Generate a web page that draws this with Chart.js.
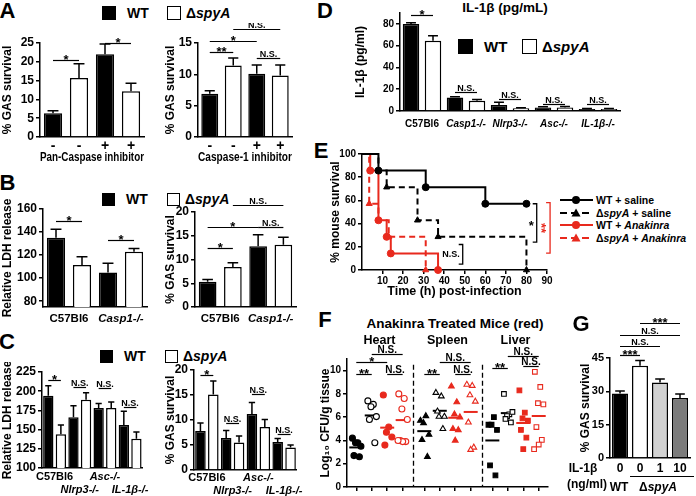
<!DOCTYPE html>
<html>
<head>
<meta charset="utf-8">
<script src="https://cdn.jsdelivr.net/npm/chart.js@4.4.1/dist/chart.umd.min.js"></script>
<style>
  body { margin:0; width:696px; height:496px; position:relative; overflow:hidden; background:#fff;
         font-family:"Liberation Sans", Arial, sans-serif; font-weight:bold; color:#000; }
  .abs { position:absolute; white-space:nowrap; line-height:1; }
  .sq { position:absolute; border:1.5px solid #000; box-sizing:border-box; }
  canvas { position:absolute; }
</style>
</head>
<body>
<script>
/* ── Data ─────────────────────────────────────────── */
const RED = '#e8291d';

// A
const aTicks   = ['-', '-', '+', '+'];
const aFill    = ['#000', '#fff', '#000', '#fff'];
const aPanMean = [6.3, 15.7, 22.0, 12.2];
const aPanErr  = [0.65, 3.8, 2.75, 2.1];
const aC1Mean  = [6.9, 11.4, 10.1, 9.8];
const aC1Err   = [0.5, 1.2, 1.4, 1.7];
const aPanSig  = [[[0,0],[0,1],20.5,'*'], [[0,2],[0,3],25,'*']];
const aC1Sig   = [[[0,0],[0,1],13.6,'**'], [[0,0],[0,2],15.3,'*'], [[0,1],[0,3],17.2,'N.S.'], [[0,2],[0,3],12.6,'N.S.']];

// B
const bGroups  = ['C57Bl6', 'Casp1-/-'];
const bLdhWT   = [135, 105],  bLdhWTErr = [7.5, 8];
const bLdhKO   = [111.5, 123], bLdhKOErr = [7, 2.7];
const bGasWT   = [5.3, 12.8], bGasWTErr = [0.5, 2.4];
const bGasKO   = [8.4, 13.1], bGasKOErr = [0.9, 1.6];
const bLdhSig  = [[[0,0],[1,0],149.5,'*'], [[0,1],[1,1],133.5,'*']];
const bGasSig  = [[[0,0],[1,0],12.5,'*'], [[0,0],[0,1],16.8,'*'], [[1,0],[1,1],21.5,'N.S.'], [[0,1],[1,1],16.8,'N.S.']];

// C
const cGroups  = [['C57Bl6', ''], ['', 'Nlrp3-/-'], ['Asc-/-', ''], ['', 'IL-1β-/-']];
const cLdhWT   = [194, 166, 178, 156], cLdhWTErr = [13, 15, 6, 18];
const cLdhKO   = [144, 189, 178, 138], cLdhKOErr = [12, 9, 8, 9];
const cGasWT   = [7.8, 6.4, 11.2, 5.6], cGasWTErr = [1.6, 1.5, 2.3, 0.7];
const cGasKO   = [15.1, 5.5, 8.6, 4.5], cGasKOErr = [2.7, 1.3, 1.5, 0.5];
const cLdhSig  = [[[0,0],[1,0],214.5,'*'], [[0,1],[1,1],205,'N.S.'], [[0,2],[1,2],204,'N.S.'], [[0,3],[1,3],179,'N.S.']];
const cGasSig  = [[[0,0],[1,0],19,'*'], [[0,1],[1,1],9.4,'N.S.'], [[0,2],[1,2],15.2,'N.S.'], [[0,3],[1,3],7.2,'N.S.']];

// D
const dGroups  = ['C57Bl6', 'Casp1-/-', 'Nlrp3-/-', 'Asc-/-', 'IL-1β-/-'];
const dWT      = [80, 12.5, 5.5, 3.3, 1.8], dWTErr = [1, 0.5, 2.5, 0.5, 0.4];
const dKO      = [64.5, 9.5, 2.5, 3.3, 1.8], dKOErr = [4.5, 1, 0.4, 0.8, 0.4];
const dSig     = [[[0,0],[1,0],88,'*'], [[0,1],[1,1],17.5,'N.S.'], [[0,2],[1,2],11,'N.S.'], [[0,3],[1,3],6.4,'N.S.'], [[0,4],[1,4],6.4,'N.S.']];

// E  (time in h, % survival)
const eWTsalT = [0, 8, 31, 60, 80],         eWTsalS = [100, 85.7, 71.4, 57.1, 57.1];
const eKOsalT = [0, 8, 12, 27, 37, 80],     eKOsalS = [100, 85.7, 71.4, 42.9, 28.6, 0];
const eWTanaT = [0, 4, 8, 12, 14, 37],      eWTanaS = [100, 85.7, 42.9, 28.6, 14.3, 0];
const eKOanaT = [0, 3.5, 8, 13, 31],        eKOanaS = [100, 57.1, 42.9, 28.6, 0];
const eXTicks = [10, 20, 30, 40, 50, 60, 70, 80, 90];
const eYTicks = [0, 20, 40, 60, 80, 100];

// F  (log10 CFU/g; columns: WT, ΔspyA, WT+Anakinra, ΔspyA+Anakinra per organ)
const fOrgans = ['Heart', 'Spleen', 'Liver'];
const fHeart  = [[4.2, 3.8, 3.8, 3.5, 2.7, 2.6], [7.4, 7.1, 6.9, 6.05, 5.8, 3.8], [7.9, 5.15, 4.7, 4.3, 3.6], [8.0, 7.6, 6.7, 5.8, 4.0, 3.9, 3.9, 4.0]];
const fSpleen = [[5.7, 6.1, 5.5, 4.5, 4.05, 2.6], [8.1, 7.8, 6.05, 6.05, 6.5, 5.0], [8.65, 7.3, 6.25, 6.0, 5.0, 4.9, 4.0], [8.8, 8.7, 7.9, 7.35, 5.55, 3.4, 3.2]];
const fLiver  = [[5.35, 6.0, 5.35, 4.9, 1.85, 1.0], [8.0, 6.25, 6.1, 6.45, 5.85, 5.55], [8.3, 6.4, 5.9, 5.7, 4.9, 4.25, 3.25], [9.9, 8.6, 7.2, 7.1, 5.15, 4.05, 3.65, 3.25]];
const fMedian = [3.4, 6.15, 5.1, 5.75, 4.8, 6.55, 5.95, 6.45, 4.0, 6.35, 5.5, 6.1];
const fYTicks = [0, 1, 2, 3, 4, 5, 6, 7, 8, 9, 10, 11];

// G
const gTicks  = ['0', '0', '1', '10'];
const gFill   = ['#000', '#fff', '#d2d2d2', '#7c7c7c'];
const gMean   = [29, 41.5, 34, 27];
const gErr    = [1.2, 2.4, 1.5, 1.8];
const gSig    = [[[0,0],[0,1],46.2,'***'], [[0,0],[0,2],50.2,'N.S.'], [[0,0],[0,3],55.2,'N.S.'], [[0,1],[0,3],60.7,'***']];

/* ── Defaults ─────────────────────────────────────── */
Chart.defaults.font.family = '"Liberation Sans", Arial, sans-serif';
Chart.defaults.font.weight = 'bold';
Chart.defaults.font.size = 12;
Chart.defaults.color = '#000';
Chart.defaults.animation = false;
Chart.defaults.plugins.legend.display = false;
Chart.defaults.plugins.tooltip.enabled = false;

/* ── Helpers ──────────────────────────────────────── */
function text(html, x, y, size, anchor) {
  const d = document.createElement('div');
  d.className = 'abs';
  d.innerHTML = html;
  d.style.left = x + 'px'; d.style.top = y + 'px'; d.style.fontSize = size + 'px';
  const tx = anchor === 'l' ? '0' : anchor === 'r' ? '-100%' : '-50%';
  d.style.transform = 'translate(' + tx + ',-50%)';
  document.body.appendChild(d);
  return d;
}
function sq(x, y, s, fill) {
  const d = document.createElement('div');
  d.className = 'sq';
  Object.assign(d.style, { left: x + 'px', top: y + 'px', width: s + 'px', height: s + 'px', background: fill });
  document.body.appendChild(d);
}
function legendWT(x, y, s, fs, gap) {
  sq(x, y - s / 2, s, '#000');
  text('WT', x + s + 11, y, fs, 'l');
  sq(x + gap, y - s / 2, s, '#fff');
  text('Δ<i>spyA</i>', x + gap + s + 5, y, fs, 'l');
}

// chart whose plot area is exactly [x0,y0,x1,y1]
function panel(area, yW, xH, padT, padR, cfg) {
  const [x0, y0, x1, y1] = area;
  const c = document.createElement('canvas');
  const w = x1 - x0 + yW + padR, h = y1 - y0 + padT + xH;
  c.width = w; c.height = h;
  Object.assign(c.style, { left: (x0 - yW) + 'px', top: (y0 - padT) + 'px', width: w + 'px', height: h + 'px' });
  document.body.appendChild(c);
  cfg.options.responsive = false;
  cfg.options.layout = { padding: { top: padT, right: padR, left: 0, bottom: 0 } };
  cfg.options.scales.x.afterFit = s => { s.height = xH; };
  cfg.options.scales.y.afterFit = s => { s.width = yW; };
  return new Chart(c, cfg);
}

function yAxis(min, max, ticks, title, fs) {
  return {
    type: 'linear', min, max,
    afterBuildTicks: s => { s.ticks = ticks.map(v => ({ value: v })); },
    ticks: { padding: 2, font: { size: fs } },
    grid: { drawOnChartArea: false, tickLength: 4, color: '#000', lineWidth: 1.5 },
    border: { color: '#000', width: 1.5 },
    title: { display: !!title, text: title, padding: 0, font: { size: 12 } }
  };
}
function xCat(fs, italic, title, pad) {
  return {
    type: 'category', offset: true,
    grid: { display: false, drawTicks: false },
    border: { color: '#000', width: 1.5 },
    ticks: { padding: pad || 3, maxRotation: 0, autoSkip: false,
             font: c => ({ size: fs, weight: 'bold', style: italic(c.index) ? 'italic' : 'normal' }) },
    title: { display: !!title, text: title || '', padding: 0, font: { size: 12 } }
  };
}
function barDs(data, err, fill, bp) {
  return { data, err, backgroundColor: fill, borderColor: '#000', borderWidth: 1.5,
           barPercentage: bp, categoryPercentage: 1 };
}

// upper error bars from ds.err
const errPlugin = {
  id: 'errbars',
  afterDatasetsDraw(chart) {
    const ctx = chart.ctx, ys = chart.scales.y;
    ctx.save();
    ctx.strokeStyle = '#000'; ctx.lineWidth = 1.5;
    chart.data.datasets.forEach((ds, di) => {
      if (!ds.err) return;
      chart.getDatasetMeta(di).data.forEach((bar, i) => {
        const top = ys.getPixelForValue(ds.data[i] + ds.err[i]);
        const hw = bar.width * 0.3;
        ctx.beginPath();
        ctx.moveTo(bar.x, bar.y); ctx.lineTo(bar.x, top);
        ctx.moveTo(bar.x - hw, top); ctx.lineTo(bar.x + hw, top);
        ctx.stroke();
      });
    });
    ctx.restore();
  }
};

function xOf(chart, ref) {
  if (Array.isArray(ref)) return chart.getDatasetMeta(ref[0]).data[ref[1]].x;
  return chart.scales.x.getPixelForValue(ref);
}
// significance bars: [from, to, yValue, label]
function sigPlugin(items, nsSize) {
  return {
    id: 'sig',
    afterDraw(chart) {
      const ctx = chart.ctx, ys = chart.scales.y;
      ctx.save();
      ctx.strokeStyle = '#000'; ctx.fillStyle = '#000'; ctx.lineWidth = 1.2;
      ctx.textAlign = 'center'; ctx.textBaseline = 'alphabetic';
      items.forEach(([a, b, v, t]) => {
        const xa = xOf(chart, a), xb = xOf(chart, b), y = Math.round(ys.getPixelForValue(v)) + 0.5;
        ctx.beginPath(); ctx.moveTo(xa, y); ctx.lineTo(xb, y); ctx.stroke();
        const star = t[0] === '*';
        ctx.font = 'bold ' + (star ? 13 : (nsSize || 9)) + 'px "Liberation Sans", Arial, sans-serif';
        ctx.fillText(t, (xa + xb) / 2, star ? y + 3 : y - 2);
      });
      ctx.restore();
    }
  };
}

/* ── A ────────────────────────────────────────────── */
text('A', 7.5, 10.5, 22);
legendWT(102, 12.5, 14, 14, 65);

panel([40, 43, 144, 137], 40, 28, 10, 4, {
  type: 'bar',
  data: { labels: aTicks, datasets: [barDs(aPanMean, aPanErr, aFill, 0.7)] },
  options: { scales: { x: xCat(14, () => false, 'Pan-Caspase inhibitor', 1),
                       y: yAxis(0, 25, [0, 5, 10, 15, 20, 25], '% GAS survival', 12) } },
  plugins: [errPlugin, sigPlugin(aPanSig)]
});
panel([198, 43, 292, 137], 35, 28, 20, 4, {
  type: 'bar',
  data: { labels: aTicks, datasets: [barDs(aC1Mean, aC1Err, aFill, 0.72)] },
  options: { scales: { x: xCat(14, () => false, 'Caspase-1 inhibitor', 1),
                       y: yAxis(0, 15, [0, 5, 10, 15], '% GAS survival', 12) } },
  plugins: [errPlugin, sigPlugin(aC1Sig)]
});

/* ── B ────────────────────────────────────────────── */
text('B', 7.5, 183, 22);
legendWT(102, 199, 13, 14, 65);

panel([43, 209, 147, 307], 43, 18, 10, 4, {
  type: 'bar',
  data: { labels: bGroups, datasets: [barDs(bLdhWT, bLdhWTErr, '#000', 0.7), barDs(bLdhKO, bLdhKOErr, '#fff', 0.7)] },
  options: { scales: { x: xCat(11.5, i => i === 1, null, 5),
                       y: yAxis(75, 160, [80, 100, 120, 140, 160], 'Relative LDH release', 12) } },
  plugins: [errPlugin, sigPlugin(bLdhSig)]
});
panel([195, 212, 296, 307], 32, 18, 14, 4, {
  type: 'bar',
  data: { labels: bGroups, datasets: [barDs(bGasWT, bGasWTErr, '#000', 0.7), barDs(bGasKO, bGasKOErr, '#fff', 0.7)] },
  options: { scales: { x: xCat(11.5, i => i === 1, null, 5),
                       y: yAxis(0, 20, [0, 5, 10, 15, 20], '% GAS survival', 12) } },
  plugins: [errPlugin, sigPlugin(bGasSig)]
});

/* ── C ────────────────────────────────────────────── */
text('C', 7, 341.5, 22);
legendWT(100, 356, 13, 14, 65);

panel([42, 372, 147, 468], 42, 28, 10, 4, {
  type: 'bar',
  data: { labels: cGroups, datasets: [barDs(cLdhWT, cLdhWTErr, '#000', 0.82), barDs(cLdhKO, cLdhKOErr, '#fff', 0.82)] },
  options: { scales: { x: xCat(11, i => i > 0, null, 2),
                       y: yAxis(100, 225, [100, 125, 150, 175, 200, 225], 'Relative LDH release', 12) } },
  plugins: [errPlugin, sigPlugin(cLdhSig)]
});
panel([194, 370, 300, 470], 31, 26, 10, 4, {
  type: 'bar',
  data: { labels: cGroups, datasets: [barDs(cGasWT, cGasWTErr, '#000', 0.82), barDs(cGasKO, cGasKOErr, '#fff', 0.82)] },
  options: { scales: { x: xCat(11, i => i > 0, null, 1),
                       y: yAxis(0, 20, [0, 5, 10, 15, 20], '% GAS survival', 12) } },
  plugins: [errPlugin, sigPlugin(cGasSig)]
});

/* ── D ────────────────────────────────────────────── */
text('D', 325, 11, 22);
text('IL-1β (pg/mL)', 505, 8, 13.5);
legendWT(458, 46, 15, 15, 64);

panel([400, 13, 620, 111], 47, 22, 8, 6, {
  type: 'bar',
  data: { labels: dGroups, datasets: [barDs(dWT, dWTErr, '#000', 0.75), barDs(dKO, dKOErr, '#fff', 0.75)] },
  options: { scales: { x: xCat(10, i => i > 0, null, 7),
                       y: yAxis(0, 90, [0, 20, 40, 60, 80], 'IL-1β (pg/ml)', 10) } },
  plugins: [errPlugin, sigPlugin(dSig)]
});

/* ── E ────────────────────────────────────────────── */
text('E', 321, 151, 22);

const eCurves = [
  { t: eWTsalT, s: eWTsalS, color: '#000', dash: [],     style: 'circle' },
  { t: eKOsalT, s: eKOsalS, color: '#000', dash: [6, 4], style: 'triangle' },
  { t: eWTanaT, s: eWTanaS, color: RED,    dash: [],     style: 'circle' },
  { t: eKOanaT, s: eKOanaS, color: RED,    dash: [6, 4], style: 'triangle' }
];
// bracket annotations: x (h), y range (%), label
const eBrackets = [
  { x: 85,   y1: 57.1, y2: 24,   color: '#000', label: '*',    rot: false },
  { x: 91.5, y1: 58,   y2: 14.5, color: RED,    label: '**',   rot: true },
  { x: 49,   y1: 22,   y2: 5,    color: '#000', label: 'N.S.', rot: false }
];
const eBracketPlugin = {
  id: 'ebr',
  afterDraw(chart) {
    const ctx = chart.ctx, xs = chart.scales.x, ys = chart.scales.y;
    ctx.save();
    eBrackets.forEach(b => {
      const x = xs.getPixelForValue(b.x), ya = ys.getPixelForValue(b.y1), yb = ys.getPixelForValue(b.y2);
      ctx.strokeStyle = b.color; ctx.fillStyle = b.color; ctx.lineWidth = 1.3;
      ctx.beginPath(); ctx.moveTo(x - 4, ya); ctx.lineTo(x, ya); ctx.lineTo(x, yb); ctx.lineTo(x - 4, yb); ctx.stroke();
      const ym = (ya + yb) / 2;
      if (b.rot) {
        ctx.translate(x - 6, ym); ctx.rotate(Math.PI / 2);
        ctx.font = 'bold 13px "Liberation Sans", Arial'; ctx.textAlign = 'center'; ctx.textBaseline = 'alphabetic';
        ctx.fillText(b.label, 0, 7);
        ctx.setTransform(1, 0, 0, 1, 0, 0);
      } else if (b.label === '*') {
        ctx.font = 'bold 13px "Liberation Sans", Arial'; ctx.textAlign = 'right'; ctx.textBaseline = 'middle';
        ctx.fillText(b.label, x - 3, ym + 3);
      } else {
        ctx.font = 'bold 9px "Liberation Sans", Arial'; ctx.textAlign = 'right'; ctx.textBaseline = 'middle';
        ctx.fillText(b.label, x - 3, ym);
      }
    });
    ctx.restore();
  }
};

panel([362, 154, 547, 270], 34, 29, 8, 12, {
  type: 'line',
  data: {
    datasets: eCurves.map(c => ({
      data: c.t.map((t, i) => ({ x: t, y: c.s[i] })),
      stepped: true, borderColor: c.color, borderWidth: 2, borderDash: c.dash,
      pointStyle: c.style, pointRadius: c.t.map((_, i) => (i ? 3.5 : 0)),
      pointBackgroundColor: c.color, pointBorderColor: c.color, pointBorderWidth: 1,
      fill: false, clip: false
    }))
  },
  options: {
    scales: {
      x: { type: 'linear', min: 0, max: 90,
           afterBuildTicks: s => { s.ticks = eXTicks.map(v => ({ value: v })); },
           ticks: { padding: 1, font: { size: 10 } },
           grid: { drawOnChartArea: false, tickLength: 4, color: '#000', lineWidth: 1.5 },
           border: { color: '#000', width: 1.5 },
           title: { display: true, text: 'Time (h) post-infection', padding: 0, font: { size: 12.5 } } },
      y: yAxis(0, 100, eYTicks, '% mouse survival', 10)
    }
  },
  plugins: [eBracketPlugin]
});

// legend of E
const eLegend = [
  ['WT + saline', 0], ['Δ<i>spyA</i> + saline', 1], ['WT + <i>Anakinra</i>', 2], ['Δ<i>spyA</i> + <i>Anakinra</i>', 3]
];
eLegend.forEach(([lbl, k], r) => {
  const c = eCurves[k], y = 200 + r * 12.6;
  const mark = c.style === 'circle'
    ? '<circle cx="16" cy="6" r="4" fill="' + c.color + '"/>'
    : '<polygon points="16,1.5 20.5,9.5 11.5,9.5" fill="' + c.color + '"/>';
  const svg = '<svg width="33" height="12" style="vertical-align:middle"><line x1="0" y1="6" x2="33" y2="6" stroke="' + c.color +
    '" stroke-width="2"' + (c.dash.length ? ' stroke-dasharray="7 4"' : '') + '/>' + mark + '</svg>';
  text(svg, 560, y, 11, 'l');
  text(lbl, 596, y, 10.5, 'l');
});

/* ── F ────────────────────────────────────────────── */
text('F', 325, 320, 22);
text('Anakinra Treated Mice (red)', 455, 324, 13.5);

const fCols = [...fHeart, ...fSpleen, ...fLiver];
const colX = i => Math.floor(i / 4) * 4.4 + (i % 4) + 0.6;
const jit = [-0.25, 0.1, -0.05, 0.3, -0.15, 0.2, 0.0, -0.3];
const shapes = ['circle', 'triangle', 'rect'];
const fSig = [
  [colX(0), colX(1), 9.75, '**'], [colX(0), colX(2), 10.7, '*'], [colX(1), colX(3), 11.4, 'N.S.'], [colX(2), colX(3), 9.75, 'N.S.'],
  [colX(4), colX(5), 9.75, '**'], [colX(5), colX(7), 10.7, 'N.S.'], [colX(6), colX(7), 9.75, 'N.S.'],
  [colX(8), colX(9), 10.2, '**'], [colX(9), colX(11), 11.3, 'N.S.'], [colX(10), colX(11), 10.4, 'N.S.']
];
const fSeparators = [4.3, 8.7];
const sepPlugin = {
  id: 'sep',
  afterDraw(chart) {
    const ctx = chart.ctx, xs = chart.scales.x, ys = chart.scales.y;
    ctx.save(); ctx.strokeStyle = '#000'; ctx.lineWidth = 1.3; ctx.setLineDash([5, 3]);
    fSeparators.forEach(v => {
      const x = Math.round(xs.getPixelForValue(v)) + 0.5;
      ctx.beginPath(); ctx.moveTo(x, ys.getPixelForValue(10.5)); ctx.lineTo(x, ys.getPixelForValue(0)); ctx.stroke();
    });
    ctx.restore();
  }
};

const fChart = panel([347, 359, 553, 492], 29, 4, 18, 4, {
  type: 'scatter',
  data: {
    datasets: fCols.map((vals, i) => {
      const color = (i % 4) < 2 ? '#000' : RED, filled = i % 2 === 0;
      const shape = shapes[Math.floor(i / 4)];
      return {
        data: vals.map((v, j) => ({ x: colX(i) + jit[j % jit.length], y: v })),
        pointStyle: shape, pointRadius: shape === 'circle' ? 3 : 3.3,
        pointBackgroundColor: filled ? color : '#fff', pointBorderColor: color, pointBorderWidth: 1.1, clip: false
      };
    }).concat([{
      data: fMedian.map((m, i) => ({ x: colX(i), y: m })),
      pointStyle: 'line', pointRadius: 7, pointBorderWidth: 2,
      pointBorderColor: fMedian.map((_, i) => ((i % 4) < 2 ? '#000' : RED)), clip: false
    }])
  },
  options: {
    scales: {
      x: { type: 'linear', min: 0, max: 13,
           afterBuildTicks: s => { s.ticks = fCols.map((_, i) => ({ value: colX(i) })); },
           ticks: { display: false },
           grid: { drawOnChartArea: false, tickLength: 4, color: '#000', lineWidth: 1.5 },
           border: { color: '#000', width: 1.5 } },
      y: yAxis(0, 11, fYTicks, 'Log₁₀ CFU/g tissue', 10)
    }
  },
  plugins: [sepPlugin, sigPlugin(fSig, 10)]
});
fOrgans.forEach((o, g) => {
  const xs = fChart.scales.x;
  text(o, 347 + xs.getPixelForValue(colX(g * 4) + 1.5) - xs.left, 340, 12.5);
});

/* ── G ────────────────────────────────────────────── */
text('G', 581, 324, 22);
panel([610, 358, 690, 458], 32, 18, 46, 4, {
  type: 'bar',
  data: { labels: gTicks, datasets: [barDs(gMean, gErr, gFill, 0.8)] },
  options: { scales: { x: xCat(12, () => false, null, 3),
                       y: yAxis(0, 45, [0, 15, 30, 45], '% GAS survival', 11) } },
  plugins: [errPlugin, sigPlugin(gSig)]
});
text('IL-1β', 583, 468, 12);
text('(ng/ml)', 587, 484, 12);
text('WT', 619, 487, 12);
text('Δ<i>spyA</i>', 658, 487, 12);
const ln = document.createElement('div');
Object.assign(ln.style, { position: 'absolute', left: '630px', top: '476px', width: '64px', height: '0', borderTop: '1.5px solid #000' });
document.body.appendChild(ln);
</script>
</body>
</html>
